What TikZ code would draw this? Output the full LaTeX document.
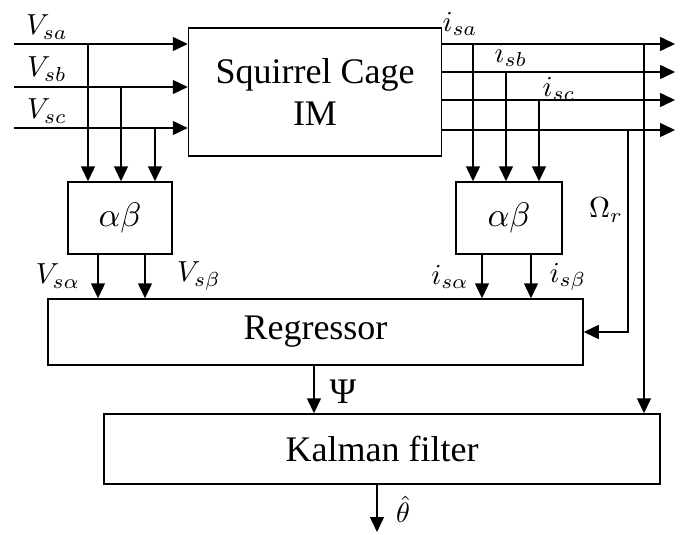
\documentclass[tikz,border=0pt]{standalone}
\usepackage{fontspec}
\setmainfont{Liberation Serif}
\usepackage{graphicx}
\usetikzlibrary{arrows.meta}
\begin{document}
\begin{tikzpicture}[x=1pt,y=-1pt,
  blk/.style={draw,line width=1.5pt,inner sep=0pt,align=center,font=\fontsize{36}{42}\selectfont},
  arr/.style={line width=1.5pt,-{Triangle[length=15pt,width=14pt]}},
  lbl/.style={inner sep=0pt,scale=2.9}]
\useasboundingbox (0,0) rectangle (683,535);
% blocks
\node[blk,minimum width=253pt,minimum height=128pt] (im) at (315,92) {Squirrel Cage\\IM};
\node[blk,font=\normalsize,minimum width=104pt,minimum height=72pt] (ab1) at (120,218) {\scalebox{3.4}{$\alpha\beta$}};
\node[blk,font=\normalsize,minimum width=106pt,minimum height=72pt] (ab2) at (509,218) {\scalebox{3.4}{$\alpha\beta$}};
\node[blk,minimum width=535pt,minimum height=66pt] (reg) at (315.5,332) {Regressor};
\node[blk,minimum width=556pt,minimum height=70pt] (kal) at (382,449) {Kalman filter};
% inputs
\coordinate (va) at (14,44);
\coordinate (vb) at (14,87);
\coordinate (vc) at (14,128);
\draw[arr] (va) -- (va -| im.west);
\draw[arr] (vb) -- (vb -| im.west);
\draw[arr] (vc) -- (vc -| im.west);
\coordinate (ta) at (88,44);
\coordinate (tb) at (121,87);
\coordinate (tc) at (155,128);
\draw[arr] (ta) -- (ta |- ab1.north);
\draw[arr] (tb) -- (tb |- ab1.north);
\draw[arr] (tc) -- (tc |- ab1.north);
\node[lbl] (lva) at (47,27) {$V_{sa}$};
\node[lbl] (lvb) at (47,69) {$V_{sb}$};
\node[lbl] (lvc) at (47,111) {$V_{sc}$};
% left alpha-beta outputs
\coordinate (pa) at (98,254);
\coordinate (pb) at (145,254);
\draw[arr] (pa) -- (pa |- reg.north);
\draw[arr] (pb) -- (pb |- reg.north);
\node[lbl] (lvalpha) at (58,276) {$V_{s\alpha}$};
\node[lbl] (lvbeta) at (199,276) {$V_{s\beta}$};
% outputs
\coordinate (oa) at (675,44);
\coordinate (ob) at (675,72);
\coordinate (oc) at (675,100);
\coordinate (od) at (675,130);
\draw[arr] (oa -| im.east) -- (oa);
\draw[arr] (ob -| im.east) -- (ob);
\draw[arr] (oc -| im.east) -- (oc);
\draw[arr] (od -| im.east) -- (od);
\node[lbl] (lia) at (460,24) {$i_{sa}$};
\node[lbl] (lib) at (511,55) {$i_{sb}$};
\node[lbl] (lic) at (559,89) {$i_{sc}$};
\coordinate (sa) at (473,44);
\coordinate (sb) at (506,72);
\coordinate (sc) at (539,100);
\draw[arr] (sa) -- (sa |- ab2.north);
\draw[arr] (sb) -- (sb |- ab2.north);
\draw[arr] (sc) -- (sc |- ab2.north);
% right alpha-beta outputs
\coordinate (qa) at (482,254);
\coordinate (qb) at (531,254);
\draw[arr] (qa) -- (qa |- reg.north);
\draw[arr] (qb) -- (qb |- reg.north);
\node[lbl] (lialpha) at (450,277) {$i_{s\alpha}$};
\node[lbl] (libeta) at (568,277) {$i_{s\beta}$};
% speed
\coordinate (om) at (628,130);
\draw[arr] (om) |- (reg.east);
\node[lbl] (lom) at (606,210) {$\Omega_r$};
\coordinate (kt) at (644,44);
\draw[arr] (kt) -- (kt |- kal.north);
% regressor to kalman
\coordinate (ps) at (314,365);
\draw[arr] (ps) -- (ps |- kal.north);
\node[inner sep=0pt,font=\fontsize{36}{40}\selectfont] (lpsi) at (343,392) {Ψ};
% output
\coordinate (th) at (377,532);
\draw[arr] (th |- kal.south) -- (th);
\node[inner sep=0pt,scale=2.8] (lth) at (403,509) {$\hat{\theta}$};
\end{tikzpicture}
\end{document}
